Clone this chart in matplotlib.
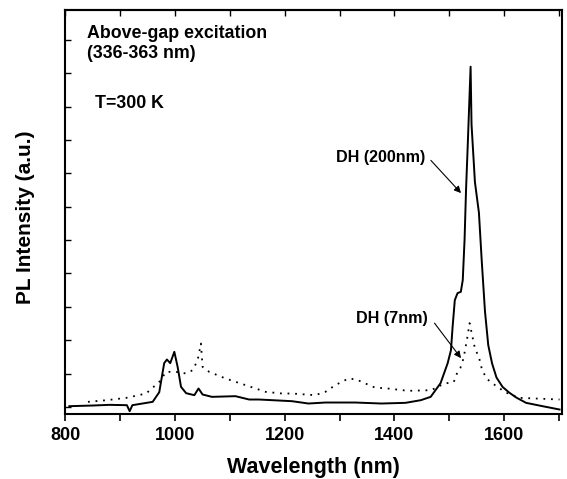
import matplotlib
matplotlib.use("Agg")
import matplotlib.pyplot as plt
from matplotlib.ticker import MultipleLocator, NullFormatter

plt.rcParams['font.family'] = ['Liberation Sans', 'DejaVu Sans']
plt.rcParams['font.weight'] = 'bold'

# DH (200nm) - solid line
wl_200 = [807, 850, 880, 912, 917, 922, 959, 971, 980, 985, 991, 998.5, 1004.5, 1010.7,
          1020, 1035, 1042.6, 1050, 1067, 1110, 1135, 1153, 1213, 1243, 1274, 1328,
          1376, 1420, 1448, 1466, 1484, 1497, 1503, 1506, 1510, 1515, 1521, 1524.5, 1527.8,
          1530.5, 1533.5, 1538.8, 1540.5, 1546.7, 1554, 1559, 1565, 1571, 1578, 1586,
          1597, 1609, 1622, 1640, 1670, 1701]
pl_200 = [0.02, 0.04, 0.06, 0.05, -0.13, 0.05, 0.15, 0.44, 1.31, 1.42, 1.31, 1.65, 1.20, 0.60,
          0.41, 0.35, 0.55, 0.37, 0.30, 0.32, 0.22, 0.22, 0.17, 0.10, 0.13, 0.13,
          0.10, 0.12, 0.20, 0.30, 0.71, 1.31, 1.70, 2.40, 3.20, 3.41, 3.45, 3.80, 5.01,
          6.51, 7.81, 10.20, 8.47, 6.74, 5.82, 4.41, 2.87, 1.85, 1.30, 0.88,
          0.60, 0.43, 0.28, 0.12, 0.02, -0.08]

# DH (7nm) - dotted line
wl_7 = [841, 875, 911, 947, 971, 983.5, 1001.6, 1020, 1032, 1041, 1047, 1050, 1062,
        1092, 1128.6, 1165, 1195, 1213, 1255, 1274, 1292, 1316, 1331, 1340, 1364,
        1388, 1425, 1467, 1491, 1508, 1515, 1520, 1526, 1532.6, 1537, 1541.6, 1546.7,
        1554, 1560, 1569, 1585, 1603, 1628, 1701]
pl_7 = [0.15, 0.20, 0.27, 0.40, 0.75, 1.05, 1.05, 1.00, 1.10, 1.40, 1.90, 1.20, 1.05,
        0.85, 0.65, 0.45, 0.40, 0.40, 0.35, 0.45, 0.65, 0.85, 0.82, 0.75, 0.58,
        0.55, 0.48, 0.50, 0.70, 0.74, 1.05, 1.16, 1.46, 2.06, 2.51, 2.15, 1.75,
        1.49, 1.09, 0.83, 0.63, 0.43, 0.27, 0.22]

fig = plt.figure(figsize=(5.67, 4.79), dpi=100)
ax = fig.add_axes([0.1155, 0.1367, 0.8752, 0.8424])

ax.plot(wl_200, pl_200, color='black', lw=1.4)
ax.plot(wl_7, pl_7, color='black', lw=1.3, linestyle=(0, (1, 3.2)))

ax.set_xlim(800, 1705)
ax.set_ylim(-0.2, 11.9)

ax.xaxis.set_major_locator(MultipleLocator(200))
ax.xaxis.set_minor_locator(MultipleLocator(100))
ax.yaxis.set_major_locator(MultipleLocator(1))
ax.yaxis.set_major_formatter(NullFormatter())
ax.tick_params(axis='x', which='both', direction='out', length=5, width=1.2,
               labelsize=13, top=False, pad=5)
ax.tick_params(axis='y', which='both', direction='in', length=4, width=1.0,
               left=True, right=False)
for lab in ax.get_xticklabels():
    lab.set_fontweight('bold')

# top ticks
sec = ax.secondary_xaxis('top')
sec.xaxis.set_major_locator(MultipleLocator(100))
sec.xaxis.set_major_formatter(NullFormatter())
sec.tick_params(direction='in', length=4, width=1.0)

for s in ax.spines.values():
    s.set_linewidth(1.5)
sec.spines['top'].set_linewidth(1.5)

ax.set_xlabel('Wavelength (nm)', fontsize=15.5, fontweight='bold', labelpad=9)
ax.set_ylabel('PL Intensity (a.u.)', fontsize=15, fontweight='bold')
ax.yaxis.set_label_coords(-0.062, 0.487)

ax.text(0.043, 0.931, 'Above-gap excitation', transform=ax.transAxes,
        fontsize=12.8, fontweight='bold', va='baseline')
ax.text(0.043, 0.881, '(336-363 nm)', transform=ax.transAxes,
        fontsize=12.8, fontweight='bold', va='baseline')
ax.text(0.0595, 0.756, 'T=300 K', transform=ax.transAxes,
        fontsize=12.8, fontweight='bold', va='baseline')

ax.text(1457, 7.47, 'DH (200nm)', fontsize=11.6, fontweight='bold',
        ha='right', va='center')
ax.annotate('', xy=(1521.3, 6.41), xytext=(1466.4, 7.39),
            arrowprops=dict(arrowstyle='-|>', lw=0.8, color='black',
                            mutation_scale=10, shrinkA=0, shrinkB=0))
ax.text(1461, 2.66, 'DH (7nm)', fontsize=11.6, fontweight='bold',
        ha='right', va='center')
ax.annotate('', xy=(1521.3, 1.46), xytext=(1473, 2.51),
            arrowprops=dict(arrowstyle='-|>', lw=0.8, color='black',
                            mutation_scale=10, shrinkA=0, shrinkB=0))

fig.savefig('out.png', dpi=100)
